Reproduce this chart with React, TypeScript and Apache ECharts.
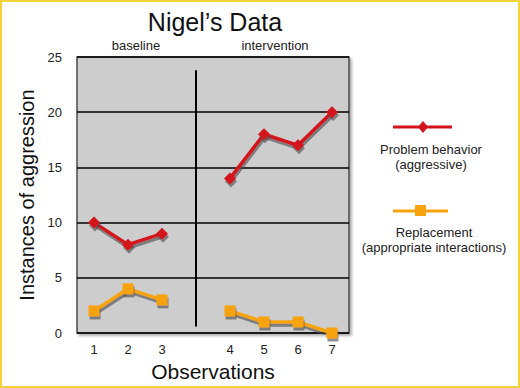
import React, { useEffect, useRef } from "react";
import * as echarts from "echarts";

const categories = ["1", "2", "3", "", "4", "5", "6", "7"];
const problemBehavior = [10, 8, 9, null, 14, 18, 17, 20];
const replacement = [2, 4, 3, null, 2, 1, 1, 0];
const phaseLabels = ["baseline", "intervention"];

const FONT = "'Liberation Sans', Arial, sans-serif";
const RED = "#d4121b";
const ORANGE = "#f7a30f";
const SHADOW = "rgba(70,70,70,0.6)";

export default function App() {
  const ref = useRef<HTMLDivElement>(null);
  useEffect(() => {
    if (!ref.current) return;
    const chart = echarts.init(ref.current, null, { renderer: "svg" });
    chart.setOption({
      animation: false,
      backgroundColor: "#ffffff",
      textStyle: { fontFamily: FONT },
      title: {
        text: "Nigel\u2019s Data",
        left: 210,
        top: 4,
        textAlign: "center",
        textStyle: { fontFamily: FONT, fontSize: 25, fontWeight: "normal", color: "#111" },
      },
      grid: {
        left: 77,
        top: 57,
        width: 272,
        height: 276,
        outerBoundsMode: "none",
        containLabel: false,
        show: true,
        backgroundColor: "#cdcdcd",
        borderColor: "#4a4a4a",
        borderWidth: 1.5,
        shadowColor: "rgba(0,0,0,0.35)",
        shadowBlur: 3,
        shadowOffsetX: 2,
        shadowOffsetY: 2,
      },
      xAxis: {
        type: "category",
        data: categories,
        axisLine: { show: false },
        axisTick: { show: false },
        axisLabel: { fontSize: 13, color: "#222", margin: 10, fontFamily: FONT },
        name: "Observations",
        nameLocation: "middle",
        nameGap: 24,
        nameTextStyle: { fontSize: 21, color: "#111", fontFamily: FONT },
      },
      yAxis: {
        type: "value",
        min: 0,
        max: 25,
        interval: 5,
        axisLine: { show: false },
        axisTick: { show: false },
        axisLabel: { fontSize: 13, color: "#222", margin: 15, fontFamily: FONT },
        splitLine: { lineStyle: { color: "#000", width: 1.5 } },
        name: "Instances of aggression",
        nameLocation: "middle",
        nameGap: 40,
        nameTextStyle: { fontSize: 20, color: "#111", fontFamily: FONT },
      },
      series: [
        {
          name: "Replacement (appropriate interactions)",
          type: "line",
          data: replacement,
          connectNulls: false,
          symbol: "rect",
          symbolSize: 11,
          itemStyle: { color: ORANGE, shadowColor: SHADOW, shadowOffsetX: 1, shadowOffsetY: 3 },
          lineStyle: { color: ORANGE, width: 3.5, shadowColor: SHADOW, shadowOffsetX: 1, shadowOffsetY: 3 },
          markLine: {
            silent: true,
            symbol: "none",
            label: { show: false },
            lineStyle: { color: "#000", width: 2, type: "solid" },
            data: [[{ coord: [3, 0.6] }, { coord: [3, 23.8] }]],
          },
        },
        {
          name: "Problem behavior (aggressive)",
          type: "line",
          data: problemBehavior,
          connectNulls: false,
          symbol: "diamond",
          symbolSize: 12,
          itemStyle: { color: RED, shadowColor: SHADOW, shadowOffsetX: 1, shadowOffsetY: 3 },
          lineStyle: { color: RED, width: 3.5, shadowColor: SHADOW, shadowOffsetX: 1, shadowOffsetY: 3 },
        },
      ],
      graphic: [
        {
          type: "rect",
          shape: { x: 1, y: 1, width: 518, height: 386 },
          style: { fill: "none", stroke: "#f1d33a", lineWidth: 2 },
          silent: true,
        },
        {
          type: "text",
          x: 136,
          y: 45,
          style: { text: phaseLabels[0], fontSize: 13, fill: "#222", fontFamily: FONT, align: "center", verticalAlign: "middle" },
        },
        {
          type: "text",
          x: 275,
          y: 45,
          style: { text: phaseLabels[1], fontSize: 13, fill: "#222", fontFamily: FONT, align: "center", verticalAlign: "middle" },
        },
        {
          type: "rect",
          shape: { x: 393, y: 125.5, width: 59, height: 3 },
          style: { fill: RED },
        },
        {
          type: "polygon",
          shape: { points: [[423, 121], [428, 127], [423, 133], [418, 127]] },
          style: { fill: RED },
        },
        {
          type: "text",
          x: 431,
          y: 149,
          style: { text: "Problem behavior", fontSize: 13, fill: "#222", fontFamily: FONT, align: "center", verticalAlign: "middle" },
        },
        {
          type: "text",
          x: 431,
          y: 164,
          style: { text: "(aggressive)", fontSize: 13, fill: "#222", fontFamily: FONT, align: "center", verticalAlign: "middle" },
        },
        {
          type: "rect",
          shape: { x: 393, y: 209.5, width: 55, height: 3 },
          style: { fill: ORANGE },
        },
        {
          type: "rect",
          shape: { x: 415, y: 205, width: 11, height: 11 },
          style: { fill: ORANGE },
        },
        {
          type: "text",
          x: 434,
          y: 232,
          style: { text: "Replacement", fontSize: 13, fill: "#222", fontFamily: FONT, align: "center", verticalAlign: "middle" },
        },
        {
          type: "text",
          x: 434,
          y: 247,
          style: { text: "(appropriate interactions)", fontSize: 13, fill: "#222", fontFamily: FONT, align: "center", verticalAlign: "middle" },
        },
      ],
    });
    return () => chart.dispose();
  }, []);
  return (
    <div
      ref={ref}
      style={{ position: "fixed", left: 0, top: 0, width: 520, height: 388, background: "#fff" }}
    />
  );
}
